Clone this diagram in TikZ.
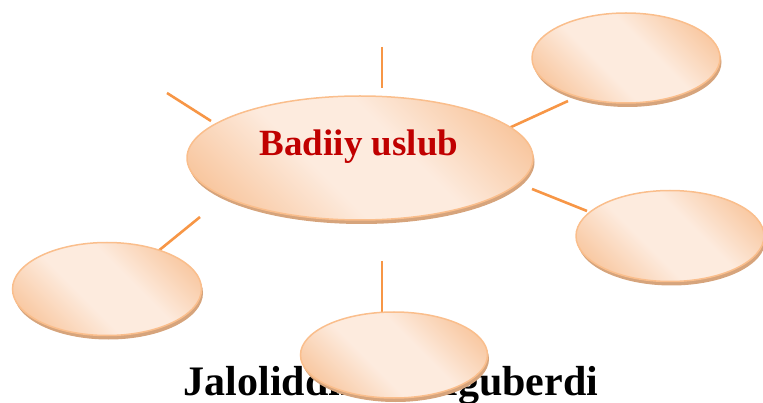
\documentclass[tikz,border=0pt]{standalone}
\usepackage{fontspec}
\setmainfont{Liberation Serif}
\usetikzlibrary{shapes.geometric,shadows}
\definecolor{pdark}{RGB}{248,198,158}
\definecolor{plight}{RGB}{253,235,222}
\definecolor{pborder}{RGB}{250,190,140}
\definecolor{pshadow}{RGB}{214,164,124}
\definecolor{linecol}{RGB}{247,150,70}
\definecolor{textred}{RGB}{192,0,0}
\pgfdeclarehorizontalshading{peach}{100bp}{color(0bp)=(pdark); color(22bp)=(pdark); color(42bp)=(plight); color(58bp)=(plight); color(78bp)=(pdark); color(100bp)=(pdark)}
\begin{document}
\begin{tikzpicture}[x=1pt,y=-1pt,
  bubble/.style={ellipse, draw=pborder, line width=1.5pt, shading=peach, shading angle=45,
    inner sep=0pt, drop shadow={shadow xshift=1.5pt, shadow yshift=-4pt, fill=pshadow, opacity=1}},
  spoke/.style={draw=linecol, line width=2.6pt}]
\useasboundingbox (0,0) rectangle (763,403);
\clip (0,0) rectangle (763,403);
% connector ends
\coordinate (t1) at (382,47);
\coordinate (t2) at (382,88);
\coordinate (ul1) at (167,93);
\coordinate (ul2) at (211,121);
\coordinate (ru1) at (509,128);
\coordinate (ru2) at (568,101);
\coordinate (r1) at (532,189);
\coordinate (r2) at (587,211);
\coordinate (ll1) at (200,217);
\coordinate (ll2) at (157,252);
\coordinate (b1) at (382,261);
\coordinate (b2) at (382,312);
\draw[spoke] (t1) -- (t2);
\draw[spoke] (ul1) -- (ul2);
\draw[spoke] (ru1) -- (ru2);
\draw[spoke] (r1) -- (r2);
\draw[spoke] (ll1) -- (ll2);
\draw[spoke] (b1) -- (b2);
% central ellipse
\node[bubble, minimum width=346pt, minimum height=124pt] (c) at (360,158) {};
\node[anchor=base, text=textred, font=\fontsize{37}{40}\selectfont\bfseries] (ct) at (359,156) {Badiiy uslub};
% satellites
\node[bubble, minimum width=188pt, minimum height=90pt] (tr) at (626,58) {};
\node[bubble, minimum width=188pt, minimum height=91pt] (r) at (670,236) {};
\node[bubble, minimum width=189pt, minimum height=93pt] (l) at (107,289) {};
% bottom title, partly hidden behind the bottom ellipse
\node[anchor=base, font=\fontsize{42}{46}\selectfont\bfseries] (title) at (391,395) {Jaloliddin Manguberdi};
\node[bubble, minimum width=187pt, minimum height=86pt] (b) at (394,355) {};
\end{tikzpicture}
\end{document}
